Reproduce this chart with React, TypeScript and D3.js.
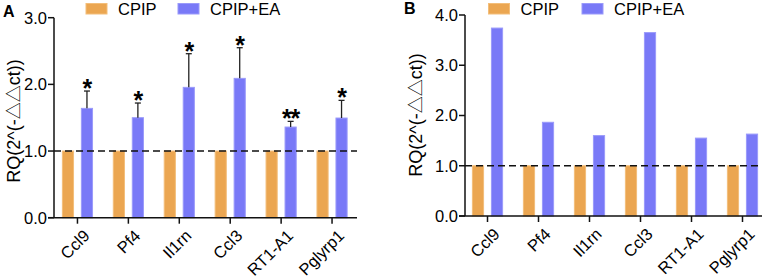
import React from "react";
import * as d3 from "d3";

const genes = ["Ccl9", "Pf4", "Il1rn", "Ccl3", "RT1-A1", "Pglyrp1"];
const seriesNames = ["CPIP", "CPIP+EA"];
const aCPIP = [1, 1, 1, 1, 1, 1];
const aEA = [1.64, 1.5, 1.955, 2.09, 1.36, 1.495];
const aEAerr = [0.26, 0.22, 0.505, 0.46, 0.085, 0.265];
const aStars = ["*", "*", "*", "*", "**", "*"];
const bCPIP = [1, 1, 1, 1, 1, 1];
const bEA = [3.74, 1.865, 1.6, 3.65, 1.55, 1.63];
const aTicks = [0, 1, 2, 3];
const bTicks = [0, 1, 2, 3, 4];

const ORANGE = "#EBA651";
const ORANGE_S = "#F3BE7A";
const BLUE = "#7979F7";
const BLUE_S = "#9A9AFA";
const FONT = "Liberation Sans, Arial, sans-serif";

type PanelProps = {
  label: string;
  labelX: number;
  labelY: number;
  axisX: number;
  axisEnd: number;
  bandRange: [number, number];
  yMax: number;
  yTop: number;
  yBottom: number;
  ticks: number[];
  cpip: number[];
  ea: number[];
  err?: number[];
  stars?: string[];
  titleX: number;
  titleY: number;
  legendX: number[];
};

function Panel(p: PanelProps) {
  const y = d3.scaleLinear().domain([0, p.yMax]).range([p.yBottom, p.yTop]);
  const x0 = d3.scaleBand<string>().domain(genes).range(p.bandRange).padding(0);
  const x1 = d3
    .scaleBand<string>()
    .domain(seriesNames)
    .range([0, x0.bandwidth()])
    .paddingInner(0.36)
    .paddingOuter(0.52);
  const bw = x1.bandwidth();
  const vals = [p.cpip, p.ea];
  const fills = [ORANGE, BLUE];
  const strokes = [ORANGE_S, BLUE_S];
  return (
    <g fontFamily={FONT}>
      <text x={p.labelX} y={p.labelY} fontSize={16} fontWeight="bold">
        {p.label}
      </text>
      {seriesNames.map((s, i) => (
        <g key={s}>
          <rect x={p.legendX[i]} y={3.5} width={21} height={10.5} fill={fills[i]} stroke={strokes[i]} strokeWidth={1} />
          <text x={p.legendX[i] + 32} y={14.5} fontSize={16.5}>
            {s}
          </text>
        </g>
      ))}
      {genes.map((g, gi) =>
        seriesNames.map((s, si) => {
          const v = vals[si][gi];
          const bx = (x0(g) as number) + (x1(s) as number);
          return (
            <rect
              key={g + s}
              x={bx + 0.5}
              y={y(v)}
              width={bw - 1}
              height={y(0) - y(v)}
              fill={fills[si]}
              stroke={strokes[si]}
              strokeWidth={1}
            />
          );
        })
      )}
      {p.err &&
        genes.map((g, gi) => {
          const cx = (x0(g) as number) + (x1("CPIP+EA") as number) + bw / 2;
          const top = y(p.ea[gi] + (p.err as number[])[gi]);
          return (
            <g key={"e" + g}>
              <line x1={cx} x2={cx} y1={y(p.ea[gi])} y2={top} stroke="#222" strokeWidth={1.3} />
              <line x1={cx - 3} x2={cx + 3} y1={top} y2={top} stroke="#222" strokeWidth={1.3} />
              {p.stars && (
                <text x={cx} y={top + 6} fontSize={25} fontWeight="bold" textAnchor="middle" letterSpacing={-1}>
                  {p.stars[gi]}
                </text>
              )}
            </g>
          );
        })}
      <line x1={p.axisX} x2={p.axisEnd} y1={y(1)} y2={y(1)} stroke="#111" strokeWidth={1.6} strokeDasharray="7,4" />
      <line x1={p.axisX} x2={p.axisX} y1={p.yTop} y2={p.yBottom} stroke="#111" strokeWidth={1.5} />
      {p.ticks.map((t) => (
        <g key={t}>
          <line x1={p.axisX - 6} x2={p.axisX} y1={y(t)} y2={y(t)} stroke="#111" strokeWidth={1.5} />
          <text x={p.axisX - 7} y={y(t) + 5.8} fontSize={16.5} textAnchor="end">
            {t.toFixed(1)}
          </text>
        </g>
      ))}
      <line x1={p.axisX - 6} x2={p.axisEnd} y1={p.yBottom} y2={p.yBottom} stroke="#111" strokeWidth={1.5} />
      {genes.map((g) => {
        const cx = (x0(g) as number) + x0.bandwidth() / 2;
        return (
          <g key={"t" + g}>
            <line x1={cx} x2={cx} y1={p.yBottom} y2={p.yBottom + 6} stroke="#111" strokeWidth={1.5} />
            <text
              transform={`translate(${cx + 5},${p.yBottom + 11}) rotate(-45)`}
              fontSize={16.5}
              textAnchor="end"
              dy="0.7em"
            >
              {g}
            </text>
          </g>
        );
      })}
      <text
        transform={`translate(${p.titleX},${p.titleY}) rotate(-90)`}
        fontSize={18}
        textAnchor="middle"
      >
        RQ(2^(-<tspan fontFamily="Noto Sans CJK SC" fontSize={17}>△△</tspan>ct))
      </text>
    </g>
  );
}

export default function App() {
  return (
    <svg width={768} height={279} style={{ position: "absolute", left: 0, top: 0, background: "#fff" }}>
      <rect width={768} height={279} fill="#fff" />
      <Panel
        label="A"
        labelX={3}
        labelY={17}
        axisX={54}
        axisEnd={357}
        bandRange={[52, 357.5]}
        yMax={3}
        yTop={17.7}
        yBottom={217.7}
        ticks={aTicks}
        cpip={aCPIP}
        ea={aEA}
        err={aEAerr}
        stars={aStars}
        titleX={20}
        titleY={121}
        legendX={[86, 178]}
      />
      <Panel
        label="B"
        labelX={404}
        labelY={14}
        axisX={465}
        axisEnd={762}
        bandRange={[462, 768]}
        yMax={4}
        yTop={15}
        yBottom={216}
        ticks={bTicks}
        cpip={bCPIP}
        ea={bEA}
        titleX={422}
        titleY={115}
        legendX={[488.5, 582]}
      />
    </svg>
  );
}
